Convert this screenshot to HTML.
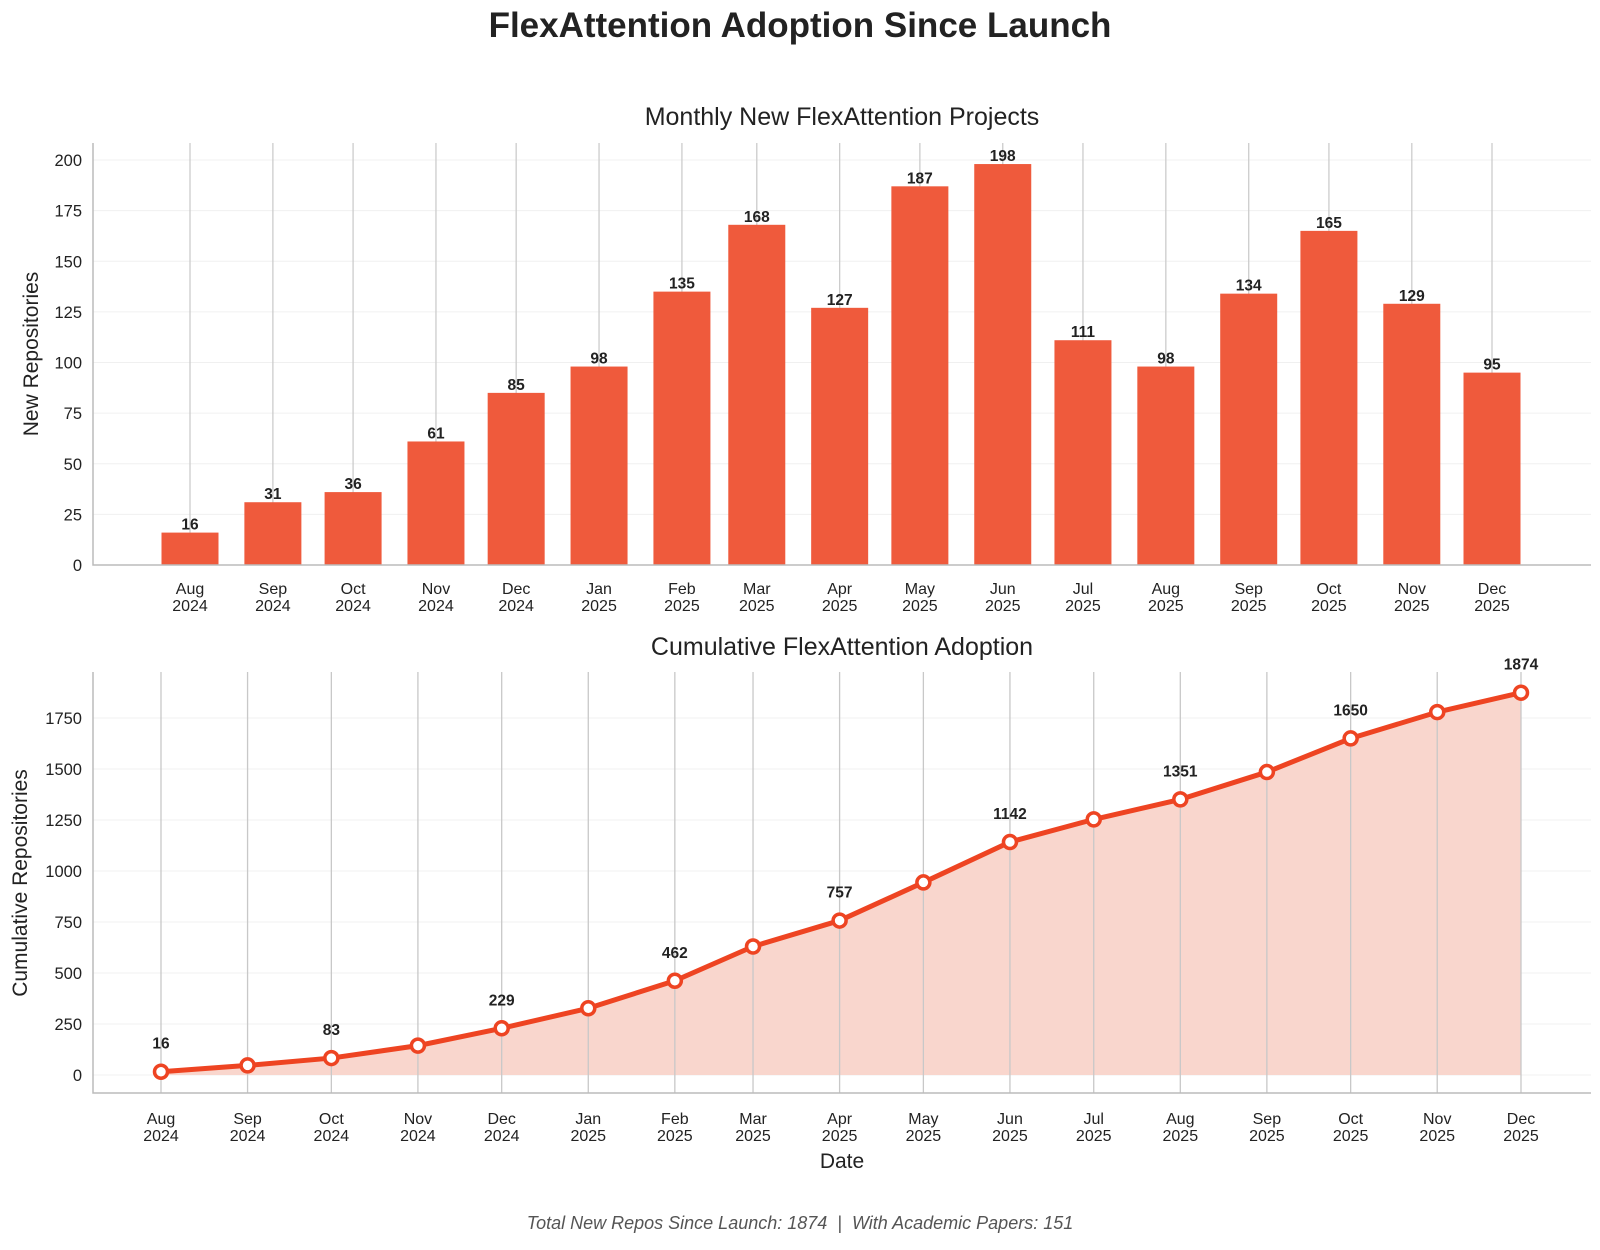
<!DOCTYPE html>
<html><head><meta charset="utf-8"><style>
body{margin:0;background:#fff;font-family:"Liberation Sans",Arial,sans-serif}
svg text{font-family:"Liberation Sans",Arial,sans-serif}
</style></head><body>
<svg id="c" width="1600" height="1245" viewBox="0 0 1600 1245" xmlns="http://www.w3.org/2000/svg">
<text x="800" y="37" text-anchor="middle" font-size="35" font-weight="bold" fill="#222">FlexAttention Adoption Since Launch</text>
<text x="842" y="125" text-anchor="middle" font-size="25" fill="#222">Monthly New FlexAttention Projects</text>
<text x="842" y="655" text-anchor="middle" font-size="25" fill="#222">Cumulative FlexAttention Adoption</text>
<text transform="translate(38,354) rotate(-90)" text-anchor="middle" font-size="21" fill="#222">New Repositories</text>
<text transform="translate(27,883) rotate(-90)" text-anchor="middle" font-size="21" fill="#222">Cumulative Repositories</text>
<text x="842" y="1168" text-anchor="middle" font-size="21" fill="#222">Date</text>
<text x="800" y="1229" text-anchor="middle" font-size="18" font-style="italic" fill="#555">Total New Repos Since Launch: 1874&#160; |&#160; With Academic Papers: 151</text>
<g id="top"></g><g id="bot"></g>
</svg>
<script>
const months=["Aug","Sep","Oct","Nov","Dec","Jan","Feb","Mar","Apr","May","Jun","Jul","Aug","Sep","Oct","Nov","Dec"];
const years=[2024,2024,2024,2024,2024,2025,2025,2025,2025,2025,2025,2025,2025,2025,2025,2025,2025];
const monthIdx=[7,8,9,10,11,0,1,2,3,4,5,6,7,8,9,10,11];
const newRepos=[16,31,36,61,85,98,135,168,127,187,198,111,98,134,165,129,95];
const cumulative=[16,47,83,144,229,327,462,630,757,944,1142,1253,1351,1485,1650,1779,1874];
const topTicks=[0,25,50,75,100,125,150,175,200];
const botTicks=[0,250,500,750,1000,1250,1500,1750];
const NS="http://www.w3.org/2000/svg";
function mk(p,t,a,txt){const e=document.createElementNS(NS,t);for(const k in a)e.setAttribute(k,a[k]);if(txt!==undefined)e.textContent=txt;p.appendChild(e);return e;}
const days=monthIdx.map((m,i)=>(Date.UTC(years[i],m,1)-Date.UTC(2024,7,1))/864e5);
const D=days[days.length-1];
const T=document.getElementById('top');
const tx=d=>190+d*(1492-190)/D, ty=v=>565-v*(565-160)/200;
topTicks.forEach(v=>{const g=mk(T,'line',{x1:93,x2:1591,y1:ty(v),y2:ty(v),stroke:'#f0f0f0','stroke-width':1});

const t=mk(T,'text',{x:82,y:ty(v)+6,'text-anchor':'end','font-size':16.5,fill:'#222'},v);
});
days.forEach((d,i)=>{const g=mk(T,'line',{x1:tx(d),x2:tx(d),y1:143,y2:565,stroke:'#cccccc','stroke-width':1.3});
});
newRepos.forEach((v,i)=>{const x=tx(days[i]);
const b=mk(T,'rect',{x:x-28.5,y:ty(v),width:57,height:ty(0)-ty(v),fill:'#ef5a3c'});

const l=mk(T,'text',{x:x,y:ty(v)-3,'text-anchor':'middle','font-size':15.5,'font-weight':'bold',fill:'#222'},v);

const a=mk(T,'text',{x:x,y:594,'text-anchor':'middle','font-size':16,fill:'#222'},months[i]);

const y=mk(T,'text',{x:x,y:611,'text-anchor':'middle','font-size':16,fill:'#222'},years[i]);
});
let s=mk(T,'path',{d:'M93 143V565H1591',fill:'none',stroke:'#bbb','stroke-width':1.5});

const B=document.getElementById('bot');
const bx=d=>161+d*(1521-161)/D, by=v=>1075-v*(1075-718)/1750;
botTicks.forEach(v=>{const g=mk(B,'line',{x1:93,x2:1591,y1:by(v),y2:by(v),stroke:'#f0f0f0','stroke-width':1});

const t=mk(B,'text',{x:82,y:by(v)+6,'text-anchor':'end','font-size':16.5,fill:'#222'},v);
});
let pts=cumulative.map((v,i)=>[bx(days[i]),by(v)]);
let area=mk(B,'path',{d:'M'+pts[0][0]+' '+by(0)+pts.map(p=>'L'+p[0]+' '+p[1]).join('')+'L'+pts[pts.length-1][0]+' '+by(0)+'Z',fill:'#f9d6cd'});

days.forEach((d,i)=>{const g=mk(B,'line',{x1:bx(d),x2:bx(d),y1:672,y2:1093,stroke:'#c8c8c8','stroke-width':1.3});

const a=mk(B,'text',{x:bx(d),y:1124,'text-anchor':'middle','font-size':16,fill:'#222'},months[i]);

const y=mk(B,'text',{x:bx(d),y:1141,'text-anchor':'middle','font-size':16,fill:'#222'},years[i]);
});
let ln=mk(B,'polyline',{points:pts.map(p=>p.join(',')).join(' '),fill:'none',stroke:'#ee4422','stroke-width':5,'stroke-linejoin':'round'});

pts.forEach((p,i)=>{const c=mk(B,'circle',{cx:p[0],cy:p[1],r:6.5,fill:'#fff',stroke:'#ee4422','stroke-width':3.5});

if(i%2===0){const l=mk(B,'text',{x:p[0],y:p[1]-23,'text-anchor':'middle','font-size':15.5,'font-weight':'bold',fill:'#222'},cumulative[i]);
}});
s=mk(B,'path',{d:'M93 672V1093H1591',fill:'none',stroke:'#bbb','stroke-width':1.5});

</script>
</body></html>
